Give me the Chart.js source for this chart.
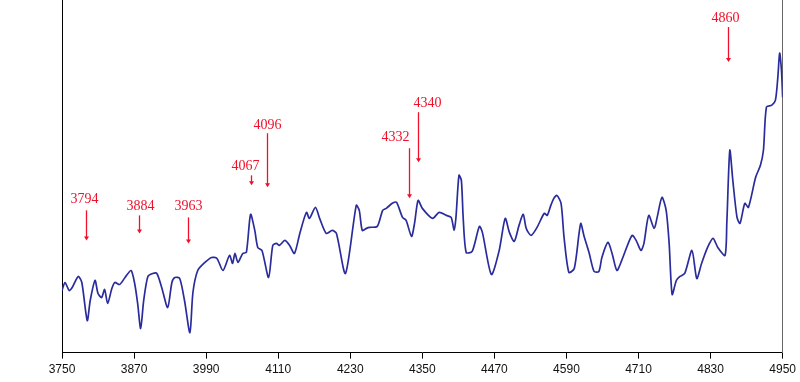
<!DOCTYPE html>
<html>
<head>
<meta charset="utf-8">
<script src="https://cdn.jsdelivr.net/npm/chart.js@4/dist/chart.umd.min.js"></script>
<style>
  html, body { margin: 0; padding: 0; background: #fff; }
  #wrap { width: 800px; height: 382px; }
</style>
</head>
<body>
<div id="wrap"><canvas id="spectrum"></canvas></div>
<script>
// spectrum (wavelength in A, relative flux)
var wavelength = [3750, 3755, 3762, 3767, 3777, 3783, 3792, 3797, 3805, 3810, 3816, 3821, 3826, 3833, 3838, 3846, 3855, 3865, 3871, 3876,
  3881, 3886, 3893, 3901, 3908, 3916, 3926, 3933, 3938, 3946, 3954, 3963, 3968, 3976, 3988, 3999, 4008, 4018, 4029, 4034,
  4038, 4043, 4051, 4057, 4064, 4071, 4076, 4083, 4094, 4101, 4107, 4112, 4121, 4129, 4137, 4146, 4157, 4162, 4172, 4179,
  4190, 4200, 4207, 4222, 4240, 4245, 4250, 4257, 4262, 4275, 4284, 4290, 4300, 4307, 4317, 4323, 4332, 4337, 4343, 4350,
  4367, 4378, 4390, 4398, 4403, 4406, 4411, 4415, 4418, 4423, 4433, 4445, 4450, 4465, 4478, 4488, 4495, 4503, 4511, 4518,
  4523, 4531, 4541, 4553, 4558, 4564, 4569, 4574, 4581, 4586, 4594, 4603, 4611, 4614, 4619, 4628, 4636, 4644, 4649, 4659,
  4666, 4674, 4682, 4699, 4706, 4714, 4719, 4727, 4736, 4741, 4749, 4756, 4761, 4766, 4773, 4779, 4787, 4799, 4807, 4815,
  4825, 4834, 4842, 4854, 4857, 4862, 4867, 4874, 4879, 4887, 4893, 4905, 4913, 4918, 4923, 4932, 4938, 4942, 4945, 4948, 4950];
var flux = [62, 70, 62, 65, 76, 70, 32, 52, 72, 59, 55, 63, 49, 64, 70, 68, 75, 82, 69, 49,
  24, 52, 76, 79, 79, 65, 45, 70, 75, 74, 52, 20, 60, 82, 90, 95, 94, 82, 97, 89,
  99, 90, 99, 100, 138, 122, 105, 102, 75, 107, 109, 107, 112, 107, 99, 119, 140, 134, 145, 134,
  119, 122, 119, 79, 147, 142, 122, 124, 125, 126, 142, 144, 149, 150, 135, 132, 116, 129, 152, 144,
  134, 140, 137, 135, 122, 135, 177, 172, 135, 100, 101, 126, 120, 78, 102, 134, 120, 111, 127, 138,
  124, 117, 125, 139, 137, 147, 154, 157, 149, 115, 80, 84, 119, 129, 117, 99, 81, 81, 95, 110,
  99, 82, 92, 117, 112, 102, 109, 137, 124, 135, 155, 142, 109, 58, 72, 76, 79, 102, 74, 89,
  105, 114, 105, 97, 129, 202, 172, 135, 129, 149, 145, 175, 187, 202, 245, 247, 252, 275, 299, 282, 255];

// red line markers
var markerLabels = ['3794', '3884', '3963', '4067', '4096', '4332', '4340', '4860'];
var markerAt = [3790, 3878, 3959, 4065, 4091, 4328, 4343, 4859];
var markerTop = [142, 137, 135, 177, 219, 204, 240, 325];
var markerTip = [112, 119, 109, 167, 165, 154, 190, 290];
var markerTextY = [153, 146, 146, 186, 227, 215, 249, 334];

var xTicks = [3750, 3870, 3990, 4110, 4230, 4350, 4470, 4590, 4710, 4830, 4950];

var points = wavelength.map(function (w, i) { return { x: w, y: flux[i] }; });

// small nudges so the labels sit where they do in the picture
var textShift = [-2, 1, 0, -6, 0, -14, 9, -3];

var markerPlugin = {
  id: 'markers',
  afterDatasetsDraw: function (chart) {
    var ctx = chart.ctx, xs = chart.scales.x, ys = chart.scales.y;
    ctx.save();
    ctx.strokeStyle = '#f0102a';
    ctx.fillStyle = '#f0102a';
    ctx.lineWidth = 1.3;
    ctx.font = '14px "Liberation Serif", "DejaVu Serif", serif';
    ctx.textAlign = 'center';
    ctx.textBaseline = 'middle';
    for (var i = 0; i < markerLabels.length; i++) {
      var px = Math.round(xs.getPixelForValue(markerAt[i])) + 0.5;
      var y1 = ys.getPixelForValue(markerTop[i]);
      var y2 = ys.getPixelForValue(markerTip[i]);
      ctx.beginPath();
      ctx.moveTo(px, y1);
      ctx.lineTo(px, y2 - 2);
      ctx.stroke();
      ctx.beginPath();
      ctx.moveTo(px - 2.5, y2 - 4);
      ctx.lineTo(px + 2.5, y2 - 4);
      ctx.lineTo(px, y2);
      ctx.closePath();
      ctx.fill();
      ctx.fillText(markerLabels[i], px + textShift[i], ys.getPixelForValue(markerTextY[i]));
    }
    ctx.restore();
  }
};

new Chart(document.getElementById('spectrum'), {
  type: 'line',
  data: {
    datasets: [{
      data: points,
      borderColor: '#2a2c9c',
      borderWidth: 1.7,
      pointRadius: 0,
      tension: 0.25,
      fill: false
    }]
  },
  options: {
    responsive: true,
    maintainAspectRatio: false,
    animation: false,
    layout: { padding: { left: 54, right: 16, top: 0, bottom: 1 } },
    plugins: { legend: { display: false }, tooltip: { enabled: false } },
    scales: {
      x: {
        type: 'linear',
        min: 3750,
        max: 4950,
        afterBuildTicks: function (axis) {
          axis.ticks = xTicks.map(function (v) { return { value: v }; });
        },
        grid: { drawOnChartArea: false, drawTicks: true, tickLength: 6, color: '#000' },
        border: { color: '#000', width: 1 },
        ticks: {
          color: '#111',
          padding: 4,
          maxRotation: 0,
          autoSkip: false,
          font: { family: '"Liberation Sans", Arial, sans-serif', size: 12 },
          callback: function (v) { return String(v); }
        }
      },
      y: {
        min: 0,
        max: 352,
        grid: { display: false },
        border: { color: '#000', width: 1 },
        ticks: { display: false }
      },
      y2: {
        position: 'right',
        min: 0,
        max: 352,
        grid: { display: false },
        border: { color: '#666', width: 1 },
        ticks: { display: false },
        afterFit: function (axis) { axis.width = 0; }
      }
    }
  },
  plugins: [markerPlugin]
});
</script>
</body>
</html>
